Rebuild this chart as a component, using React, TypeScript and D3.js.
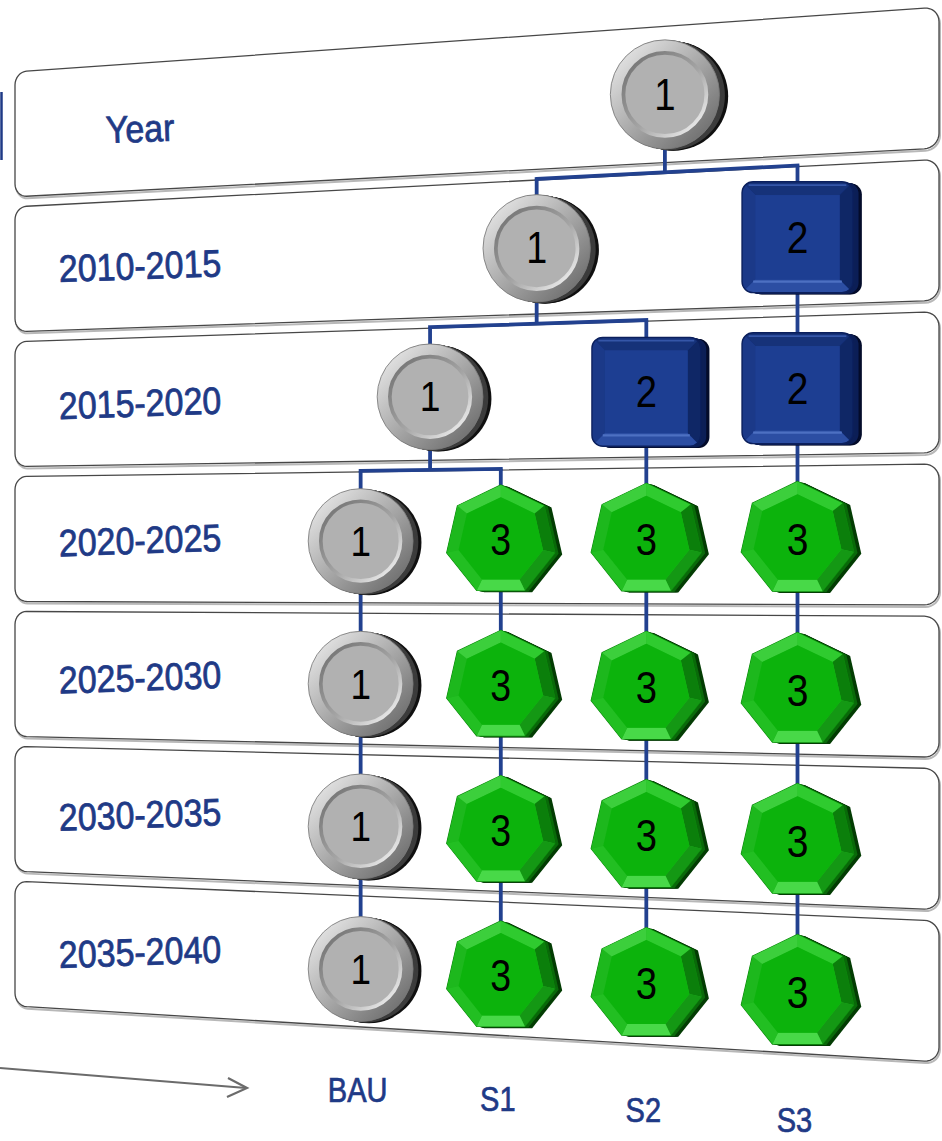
import React from "react";
import * as d3 from "d3";

// ---------- data ----------
const periods = ["Year", "2010-2015", "2015-2020", "2020-2025", "2025-2030", "2030-2035", "2035-2040"];
const scenarios = ["BAU", "S1", "S2", "S3"];
// per period: which scenarios share one node (branching tree)
const branchGroups: number[][][] = [
  [[0, 1, 2, 3]],
  [[0, 1, 2], [3]],
  [[0, 1], [2], [3]],
  [[0], [1], [2], [3]],
  [[0], [1], [2], [3]],
  [[0], [1], [2], [3]],
  [[0], [1], [2], [3]],
];
// node state value per group (1 = circle, 2 = square, 3 = heptagon)
const nodeValues: number[][] = [
  [1],
  [1, 2],
  [1, 2, 2],
  [1, 3, 3, 3],
  [1, 3, 3, 3],
  [1, 3, 3, 3],
  [1, 3, 3, 3],
];

// ---------- geometry ----------
const W = 942, H = 1141;
const X0 = 15, X1 = 939;
const LT = 72, LB = 1006, RT = 7, RB = 1062;
const rho = (RB - RT) / (LB - LT);
const zR = 1 / rho;

function proj(u: number, t: number): [number, number, number] {
  const v = (t - LT) / (LB - LT);
  const yL = t;
  const yR = RT + v * (RB - RT);
  const w = (1 - u) + u * zR;
  return [X0 + (X1 - X0) * (u * zR) / w, ((1 - u) * yL + u * zR * yR) / w, 1 / w];
}
function uFromX(x: number) {
  const X = (x - X0) / (X1 - X0);
  return (rho * X) / (1 + (rho - 1) * X);
}

const colToU = d3.scaleLinear().domain([0, scenarios.length - 1]).range([0.403, 0.862]);
const rowBand = d3.scaleBand<string>().domain(periods).range([LT, LB]).paddingInner(0.074);
const bw = rowBand.bandwidth();

type TreeDatum = { row: number; group: number[]; value: number; children?: TreeDatum[] };
function buildTree(row: number, gi: number): TreeDatum {
  const group = branchGroups[row][gi];
  const node: TreeDatum = { row, group, value: nodeValues[row][gi] };
  if (row + 1 < periods.length) {
    const kids = branchGroups[row + 1]
      .map((g, j) => ({ g, j }))
      .filter(({ g }) => g.every((s) => group.includes(s)));
    node.children = kids.map(({ j }) => buildTree(row + 1, j));
  }
  return node;
}
const root: any = d3.hierarchy(buildTree(0, 0));
root.eachAfter((n: any) => {
  n.col = n.children ? d3.mean(n.children, (c: any) => c.col) : n.data.group[0];
});
const nodes: any[] = root.descendants();
const nodeT = (row: number) => (rowBand(periods[row]) as number) + bw / 2 + row * 1.2;
const nodePos = (n: any) => proj(colToU(n.col), nodeT(n.data.row));

function rowOutline(p: string) {
  const top = rowBand(p) as number;
  const bot = top + bw;
  const r = 13;
  const ru = r / (X1 - X0);
  const pts: [number, number][] = [];
  const arc = (cu: number, ct: number, a0: number, a1: number) => {
    for (let i = 0; i <= 8; i++) {
      const a = a0 + (a1 - a0) * (i / 8);
      pts.push([cu + ru * Math.cos(a), ct + r * Math.sin(a)]);
    }
  };
  arc(ru, top + r, Math.PI, 1.5 * Math.PI);
  arc(1 - ru, top + r, 1.5 * Math.PI, 2 * Math.PI);
  arc(1 - ru, bot - r, 0, 0.5 * Math.PI);
  arc(ru, bot - r, 0.5 * Math.PI, Math.PI);
  const sp = pts.map(([u, t]) => {
    const q = proj(u, t);
    return [q[0], q[1]] as [number, number];
  });
  return d3.line()(sp) + "Z";
}

const NAVY = "#1f3a86";
const LINK = "#22418f";
const FONT = "'Liberation Sans', Arial, sans-serif";

const heptPts = (R: number) =>
  d3.range(7).map((k) => {
    const a = -Math.PI / 2 + (k * 2 * Math.PI) / 7;
    return [R * Math.cos(a), R * Math.sin(a)] as [number, number];
  });
const ptsStr = (p: [number, number][]) => p.map((d) => d.join(",")).join(" ");
const heptBevel = ["#2fcb2f", "#0b7f0b", "#149814", "#48d948", "#22bf22", "#1db81d", "#3ccf3c"];

function Node({ n }: { n: any }) {
  const [cx, cy, s] = nodePos(n);
  const v = n.data.value;
  const sides = d3.range(8, 0, -1);
  let body: React.ReactNode = null;
  if (v === 1) {
    body = (
      <g>
        {sides.map((i) => (
          <circle key={i} cx={i} cy={i * 0.2} r={50} fill={i > 5 ? "#111" : "#3c3c3c"} />
        ))}
        <circle r={50} fill="url(#ringGray)" stroke="#7a7a7a" strokeWidth={0.8} />
        <circle r={38} fill="#b1b1b1" stroke="url(#rimGray)" strokeWidth={3.5} />
      </g>
    );
  } else if (v === 2) {
    const o = 50, i2 = 38;
    body = (
      <g>
        {sides.map((i) => (
          <rect key={i} x={-o + i} y={-o + i * 0.2} width={2 * o} height={2 * o} rx={10} fill={i > 5 ? "#040c2b" : "#0c1f57"} />
        ))}
        <g clipPath="url(#sqClip)">
          <rect x={-o} y={-o} width={2 * o} height={2 * o} fill="#1a3a8a" />
          <polygon points={ptsStr([[-o, -o], [o, -o], [i2, -i2], [-i2, -i2]])} fill="#163279" />
          <polygon points={ptsStr([[-o, -o], [-i2, -i2], [-i2, i2], [-o, o]])} fill="#1b3988" />
          <polygon points={ptsStr([[-o, o], [-i2, i2], [i2, i2], [o, o]])} fill="#2c4ea3" />
          <polygon points={ptsStr([[o, -o], [o, o], [i2, i2], [i2, -i2]])} fill="#0f2766" />
        </g>
        <rect x={-o} y={-o} width={2 * o} height={2 * o} rx={10} fill="none" stroke="#0b1f5c" strokeWidth={1.2} />
        <rect x={-i2} y={-i2} width={2 * i2} height={2 * i2} fill="#1d3e92" />
        <line x1={-i2 - 2} x2={i2 + 2} y1={i2 + 2} y2={i2 + 2} stroke="#4d70c2" strokeWidth={2} />
        <line x1={-o + 6} x2={o - 6} y1={-o + 3} y2={-o + 3} stroke="#3556a8" strokeWidth={1.5} />
      </g>
    );
  } else {
    const outer = heptPts(52);
    const inner = heptPts(52 * 0.78);
    body = (
      <g>
        {sides.map((i) => (
          <polygon key={i} points={ptsStr(outer.map(([x, y]) => [x + i * 0.85, y + i * 0.2] as [number, number]))} fill={i > 4 ? "#043d04" : "#0a6a0a"} />
        ))}
        <polygon points={ptsStr(outer)} fill="#1fb81f" stroke="#0c850c" strokeWidth={1} />
        {d3.range(7).map((k) => {
          const k2 = (k + 1) % 7;
          return (
            <polygon key={k} points={ptsStr([outer[k], outer[k2], inner[k2], inner[k]])} fill={heptBevel[k]} />
          );
        })}
        <polygon points={ptsStr(inner)} fill="#0cb30c" />
      </g>
    );
  }
  return (
    <g transform={`translate(${cx},${cy}) scale(${s})`}>
      {body}
      <text
        x={0}
        y={0}
        textAnchor="middle"
        dominantBaseline="central"
        fontFamily={FONT}
        fontSize={37}
        fill="#000"
        transform="scale(0.95,1.1)"
      >
        {v}
      </text>
    </g>
  );
}

export default function App() {
  const links: React.ReactNode[] = [];
  const LW = 3.8;
  nodes.forEach((n, idx) => {
    if (!n.children) return;
    const [px, py] = nodePos(n);
    if (n.children.length === 1) {
      const [qx, qy] = nodePos(n.children[0]);
      links.push(<line key={`s${idx}`} x1={px} y1={py} x2={qx} y2={qy} stroke={LINK} strokeWidth={LW} />);
    } else {
      const childRow = n.data.row + 1;
      const tBus = (rowBand(periods[childRow]) as number) - 1;
      const pb = proj(colToU(n.col), tBus);
      links.push(<line key={`p${idx}`} x1={px} y1={py} x2={pb[0]} y2={pb[1]} stroke={LINK} strokeWidth={LW} />);
      const cols = n.children.map((c: any) => c.col);
      const a = proj(colToU(d3.min(cols) as number), tBus);
      const b = proj(colToU(d3.max(cols) as number), tBus);
      links.push(<line key={`b${idx}`} x1={a[0]} y1={a[1]} x2={b[0]} y2={b[1]} stroke={LINK} strokeWidth={LW} strokeLinecap="square" />);
      n.children.forEach((c: any, j: number) => {
        const cb = proj(colToU(c.col), tBus);
        const [qx, qy] = nodePos(c);
        links.push(<line key={`c${idx}-${j}`} x1={cb[0]} y1={cb[1]} x2={qx} y2={qy} stroke={LINK} strokeWidth={LW} />);
      });
    }
  });

  const uLabel = uFromX(140);

  return (
    <svg
      width={W}
      height={H}
      viewBox={`0 0 ${W} ${H}`}
      style={{ position: "absolute", left: 0, top: 0, display: "block", background: "#fff" }}
    >
      <defs>
        <linearGradient id="ringGray" x1="0" y1="0" x2="1" y2="1">
          <stop offset="0" stopColor="#f4f4f4" />
          <stop offset="0.5" stopColor="#a9a9a9" />
          <stop offset="1" stopColor="#5e5e5e" />
        </linearGradient>
        <linearGradient id="rimGray" x1="0" y1="0" x2="1" y2="1">
          <stop offset="0" stopColor="#6c6c6c" />
          <stop offset="0.55" stopColor="#a5a5a5" />
          <stop offset="1" stopColor="#ffffff" />
        </linearGradient>
        <clipPath id="sqClip">
          <rect x={-50} y={-50} width={100} height={100} rx={10} />
        </clipPath>
      </defs>

      <rect x={0} y={0} width={W} height={H} fill="#fff" />

      {/* rows */}
      {periods.map((p) => {
        const d = rowOutline(p);
        return (
          <g key={p}>
            <path d={d} fill="none" stroke="#b8b8b8" strokeWidth={2} transform="translate(1,2)" />
            <path d={d} fill="#fff" stroke="#474747" strokeWidth={1.3} />
          </g>
        );
      })}

      {/* left marker bar */}
      <line x1={1.5} x2={1.5} y1={92} y2={160} stroke={NAVY} strokeWidth={2.5} />

      {/* connectors */}
      {links}

      {/* nodes */}
      {nodes.map((n, i) => (
        <Node key={i} n={n} />
      ))}

      {/* row labels */}
      {periods.map((p) => {
        const [x, y] = proj(uLabel, (rowBand(p) as number) + bw / 2);
        return (
          <text
            key={p}
            transform={`translate(${x},${y + 2}) rotate(-2) scale(1,1.12)`}
            textAnchor="middle"
            dominantBaseline="central"
            fontFamily={FONT}
            fontSize={34}
            fill={NAVY}
            stroke={NAVY}
            strokeWidth={0.7}
          >
            {p}
          </text>
        );
      })}

      {/* scenario labels */}
      {scenarios.map((s, i) => {
        const [x, y] = proj(colToU(i), LB + 60);
        return (
          <text
            key={s}
            transform={`translate(${x - 3},${y}) scale(1,1.2)`}
            textAnchor="middle"
            dominantBaseline="central"
            fontFamily={FONT}
            fontSize={29}
            fill={NAVY}
            stroke={NAVY}
            strokeWidth={0.6}
          >
            {s}
          </text>
        );
      })}

      {/* arrow */}
      <line x1={0} y1={1068} x2={246} y2={1088} stroke="#6b6b6b" strokeWidth={2.2} />
      <polyline points="228,1078 247,1088 227,1097" fill="none" stroke="#6b6b6b" strokeWidth={2.2} />
    </svg>
  );
}
